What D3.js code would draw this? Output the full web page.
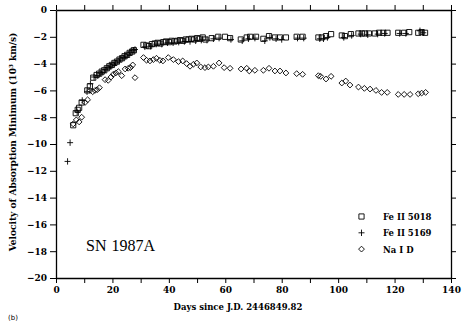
<!DOCTYPE html>
<html>
<head>
<meta charset="utf-8">
<script src="https://cdn.jsdelivr.net/npm/d3@7/dist/d3.min.js"></script>
<style>
  html, body { margin: 0; padding: 0; background: #fff; }
  svg { display: block; }
  .tick text { font-family: "DejaVu Serif", serif; font-weight: bold; font-size: 9px; fill: #000; }
</style>
</head>
<body>
<svg id="chart" width="463" height="326"></svg>
<script>
// ---- data (days since J.D. 2446849.82, velocity in 10^3 km/s) ----
const feII5018 = [
  [6.1,-8.6],[7.0,-7.7],[7.7,-7.45],[8.2,-7.3],[9.1,-6.9],[11.1,-6.0],[12.0,-5.7],[13.2,-5.05],
  [14.4,-4.85],[15.3,-4.75],[16.2,-4.6],[17.1,-4.5],[18.0,-4.35],[18.9,-4.2],[19.8,-4.1],[20.7,-3.95],
  [21.6,-3.85],[22.5,-3.7],[23.4,-3.6],[24.3,-3.45],[25.2,-3.35],[26.1,-3.2],[27.0,-3.1],[27.6,-3.0],
  [31.0,-2.6],[32.0,-2.65],[33.0,-2.7],[34.0,-2.55],[35.0,-2.5],[36.0,-2.45],[37.0,-2.5],[38.0,-2.4],
  [39.0,-2.35],[40.0,-2.4],[41.0,-2.3],[42.0,-2.35],[43.0,-2.3],[44.0,-2.25],[45.0,-2.3],[46.0,-2.2],
  [47.0,-2.2],[48.0,-2.15],[49.0,-2.2],[50.0,-2.1],[51.0,-2.15],[52.0,-2.05],[53.0,-2.2],[55.2,-2.1],
  [57.5,-2.0],[59.9,-2.0],[61.7,-2.1],[65.5,-2.2],[67.6,-2.05],[68.8,-2.0],[70.9,-2.0],[73.5,-2.15],
  [75.5,-1.95],[77.6,-2.05],[79.4,-2.05],[81.5,-2.05],[85.3,-2.0],[87.4,-2.0],[93.0,-2.05],[94.2,-2.05],
  [95.7,-1.95],[97.5,-1.8],[101.3,-1.9],[102.4,-1.95],[104.5,-1.8],[107.2,-1.75],[108.4,-1.75],[109.5,-1.75],
  [110.9,-1.75],[113.0,-1.75],[114.5,-1.7],[116.0,-1.7],[117.5,-1.7],[121.3,-1.7],[123.4,-1.7],[125.2,-1.65],
  [128.4,-1.7],[129.6,-1.65],[130.8,-1.7]
];
const feII5169 = [
  [4.1,-11.3],[5.0,-9.9],[7.5,-7.6],[9.3,-6.75],[11.0,-6.1],[12.2,-5.5],[13.5,-5.0],[14.8,-4.9],
  [15.7,-4.7],[16.6,-4.65],[17.5,-4.45],[18.4,-4.3],[19.3,-4.2],[20.2,-4.05],[21.1,-3.95],[22.0,-3.8],
  [22.9,-3.65],[23.8,-3.55],[24.7,-3.45],[25.6,-3.3],[26.5,-3.15],[27.5,-3.0],[28.0,-2.95],[31.5,-2.75],
  [33.5,-2.7],[35.5,-2.55],[37.5,-2.55],[39.5,-2.45],[41.5,-2.45],[43.5,-2.4],[45.5,-2.35],[47.5,-2.35],
  [49.5,-2.3],[51.5,-2.25],[53.5,-2.25],[55.8,-2.15],[57.8,-2.1],[62.0,-2.2],[66.0,-2.3],[68.2,-2.15],
  [70.5,-2.1],[74.0,-2.3],[75.8,-2.05],[78.0,-2.15],[80.0,-2.2],[85.6,-2.1],[87.8,-2.1],[93.5,-2.15],
  [94.8,-2.15],[96.2,-2.05],[102.0,-2.05],[104.8,-1.9],[108.0,-1.8],[110.5,-1.85],[114.0,-1.8],[116.5,-1.75],
  [121.8,-1.75],[124.0,-1.75],[129.0,-1.55],[130.2,-1.7]
];
const naID = [
  [6.1,-8.5],[7.2,-8.2],[8.2,-8.35],[9.1,-8.0],[10.3,-6.9],[11.2,-6.7],[12.1,-6.0],[13.0,-6.1],
  [13.8,-6.0],[14.6,-5.95],[15.4,-5.8],[17.4,-5.2],[18.5,-5.25],[19.5,-5.0],[20.3,-4.8],[21.2,-4.7],
  [22.1,-4.6],[23.3,-4.9],[24.5,-4.4],[25.6,-4.35],[26.4,-4.3],[27.2,-4.1],[28.0,-5.05],[31.0,-3.55],
  [32.1,-3.75],[33.3,-3.8],[34.5,-3.7],[35.6,-3.6],[36.8,-3.75],[37.9,-3.8],[39.8,-3.55],[41.6,-3.7],
  [43.4,-3.85],[44.9,-3.8],[46.3,-4.0],[47.5,-4.2],[48.7,-4.05],[49.9,-3.95],[51.3,-4.25],[52.8,-4.3],
  [54.0,-4.25],[55.8,-4.2],[57.8,-3.95],[59.6,-4.3],[61.7,-4.35],[65.6,-4.4],[67.6,-4.35],[68.5,-4.55],
  [70.5,-4.5],[73.5,-4.5],[75.5,-4.35],[77.6,-4.55],[79.4,-4.55],[81.5,-4.7],[85.3,-4.75],[87.4,-4.8],
  [93.0,-4.9],[93.8,-4.95],[95.7,-5.15],[97.5,-4.95],[101.3,-5.45],[102.7,-5.3],[104.2,-5.6],[107.2,-5.75],
  [109.3,-5.85],[111.3,-5.9],[113.4,-6.0],[115.4,-6.15],[117.4,-6.15],[121.3,-6.3],[123.4,-6.3],[125.5,-6.3],
  [128.4,-6.25],[129.6,-6.2],[131.0,-6.15]
];
const xTicks = [0,10,20,30,40,50,60,70,80,90,100,110,120,130,140];
const yTicks = [-20,-18,-16,-14,-12,-10,-8,-6,-4,-2,0];
const legendLabels = ["Fe II 5018", "Fe II 5169", "Na I D"];
const xTitle = "Days since J.D. 2446849.82";
const yTitle = "Velocity of Absorption Minimum (10\u00B3 km/s)";
const objectLabel = "SN 1987A";
const panelLabel = "(b)";

// ---- layout ----
const svg = d3.select("#chart");
const L = 56, R = 451, T = 10, B = 278;
const x = d3.scaleLinear().domain([0, 140]).range([L, R]);
const y = d3.scaleLinear().domain([-20, 0]).range([B, T]);

// axes
svg.append("g").attr("transform", `translate(0,${B})`)
  .call(d3.axisBottom(x).tickValues(xTicks).tickSize(5).tickSizeOuter(0).tickPadding(4)
    .tickFormat(d => d % 20 === 0 ? d : ""));
svg.append("g").attr("transform", `translate(0,${T})`)
  .call(d3.axisTop(x).tickValues(xTicks).tickSize(5).tickSizeOuter(0).tickFormat(""));
svg.append("g").attr("transform", `translate(${L},0)`)
  .call(d3.axisLeft(y).tickValues(yTicks).tickSize(6).tickSizeOuter(0).tickPadding(3));
svg.append("g").attr("transform", `translate(${R},0)`)
  .call(d3.axisRight(y).tickValues(yTicks).tickSize(5).tickSizeOuter(0).tickFormat(""));
svg.selectAll(".domain").attr("stroke", "#000").attr("stroke-width", 1.3);
svg.selectAll(".tick line").attr("stroke", "#000").attr("stroke-width", 1);

// markers
const symSq = "M-2.6,-2.6H2.6V2.6H-2.6Z";
const symPlus = "M-3,0H3M0,-3.2V3.2";
const symDia = "M0,-2.9L2.9,0L0,2.9L-2.9,0Z";
function drawSeries(data, sym) {
  svg.append("g").selectAll("path").data(data).join("path")
    .attr("d", sym)
    .attr("transform", d => `translate(${x(d[0])},${y(d[1])})`)
    .attr("fill", "none").attr("stroke", "#000").attr("stroke-width", 0.9);
}
drawSeries(naID, symDia);
drawSeries(feII5018, symSq);
drawSeries(feII5169, symPlus);

// legend
const syms = [symSq, symPlus, symDia];
const lg = svg.append("g");
legendLabels.forEach((t, i) => {
  const yy = 216.5 + i * 16.3;
  lg.append("path").attr("d", syms[i]).attr("transform", `translate(361.5,${yy})`)
    .attr("fill", "none").attr("stroke", "#000").attr("stroke-width", 0.9);
  lg.append("text").attr("x", 383).attr("y", yy + 3.5).text(t)
    .attr("font-family", "DejaVu Serif, serif").attr("font-weight", "bold").attr("font-size", 8.5);
});

// titles
svg.append("text").attr("x", 238).attr("y", 310).attr("text-anchor", "middle")
  .attr("font-family", "DejaVu Serif, serif").attr("font-weight", "bold").attr("font-size", 8.5)
  .text(xTitle);
svg.append("text").attr("transform", "translate(16,142) rotate(-90)").attr("text-anchor", "middle")
  .attr("font-family", "DejaVu Serif, serif").attr("font-weight", "bold").attr("font-size", 9)
  .text(yTitle);
svg.append("text").attr("x", 86).attr("y", 251)
  .attr("font-family", "Liberation Serif, serif").attr("font-size", 16)
  .attr("word-spacing", 1).text(objectLabel);
svg.append("text").attr("x", 8).attr("y", 320)
  .attr("font-family", "DejaVu Sans, sans-serif").attr("font-size", 7)
  .text(panelLabel);
</script>
</body>
</html>
